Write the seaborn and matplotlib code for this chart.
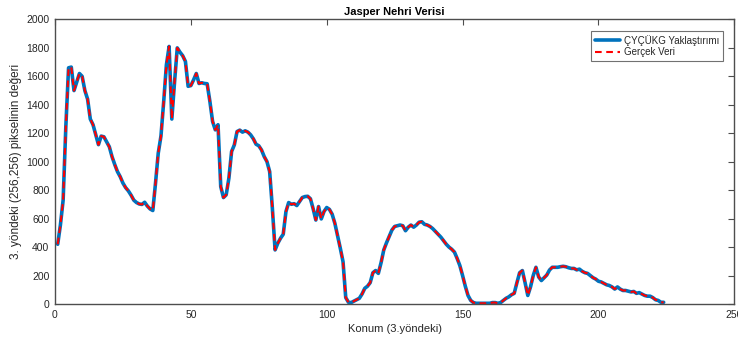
import matplotlib
matplotlib.use("Agg")
import matplotlib.pyplot as plt
import numpy as np
import pandas as pd
import seaborn as sns

# pixel position along the 3rd direction
positions = list(range(1, 225))

# values (Gerçek Veri)
real_values = [
    420, 556, 730, 1250, 1660, 1665, 1500, 1560, 1620, 1600,
    1500, 1440, 1300, 1260, 1190, 1120, 1180, 1175, 1140, 1105,
    1035, 980, 930, 895, 850, 818, 795, 765, 730, 713,
    703, 700, 715, 688, 668, 657, 850, 1060, 1180, 1420,
    1680, 1810, 1300, 1560, 1800, 1770, 1745, 1705, 1530, 1535,
    1575, 1620, 1550, 1555, 1550, 1548, 1425, 1283, 1224, 1260,
    825, 748, 767, 884, 1072, 1118, 1212, 1222, 1208, 1217,
    1208, 1189, 1161, 1123, 1112, 1083, 1036, 1001, 931, 673,
    380, 427, 462, 490, 650, 713, 701, 705, 692, 720,
    748, 755, 757, 740, 670, 590, 685, 598, 650, 678,
    665, 631, 567, 480, 392, 298, 45, 12, 10, 20,
    30, 40, 70, 110, 125, 150, 220, 235, 215, 290,
    380, 430, 475, 520, 545, 550, 555, 550, 515, 540,
    555, 540, 555, 575, 578, 560, 555, 545, 530, 510,
    490, 470, 445, 420, 400, 385, 365, 320, 270, 200,
    125, 60, 25, 10, 5, 5, 5, 5, 5, 5,
    10, 10, 5, 10, 25, 40, 50, 65, 75, 150,
    220, 235, 150, 60, 120, 200, 258, 190, 165, 185,
    204, 239, 258, 258, 258, 262, 265, 262, 255, 250,
    250, 240, 245, 230, 220, 215, 200, 185, 175, 160,
    155, 145, 135, 130, 120, 105, 120, 105, 95, 95,
    90, 85, 88, 75, 80, 70, 60, 55, 55, 45,
    30, 25, 12, 12,
]

# the approximation follows the real data so closely it is indistinguishable
approx_values = list(real_values)

series_labels = ["ÇYÇÜKG Yaklaştırımı", "Gerçek Veri"]
x_ticks = [0, 50, 100, 150, 200, 250]
y_ticks = list(range(0, 2001, 200))

sns.set_style("white")
plt.rcParams["font.family"] = ["Liberation Sans", "DejaVu Sans"]

df = pd.DataFrame({"pos": positions, "approx": approx_values, "real": real_values})

fig = plt.figure(figsize=(7.38, 3.41), dpi=100)
ax = fig.add_axes([0.0745, 0.1085, 0.9205, 0.8345])

axis_gray = "#4d4d4d"
text_gray = "#262626"

sns.lineplot(data=df, x="pos", y="approx", ax=ax, color="#0072BD",
             linewidth=2.6, label=series_labels[0])
sns.lineplot(data=df, x="pos", y="real", ax=ax, color="#FF0000",
             linewidth=1.5, linestyle=(0, (3.2, 2.2)), label=series_labels[1])

ax.set_xlim(0, 250)
ax.set_ylim(0, 2000)
ax.set_xticks(x_ticks)
ax.set_yticks(y_ticks)

ax.tick_params(axis="both", which="both", direction="in", length=4, width=0.8,
               colors=axis_gray, labelcolor=text_gray, labelsize=7.5,
               top=True, right=True, pad=4)
for spine in ax.spines.values():
    spine.set_visible(True)
    spine.set_color(axis_gray)
    spine.set_linewidth(1.0)

ax.set_xlabel("Konum (3.yöndeki)", fontsize=8, color=text_gray, labelpad=3)
ax.set_ylabel("3. yöndeki (256,256) pikselinin değeri", fontsize=8.5,
              color=text_gray, labelpad=3)
ax.set_title("Jasper Nehri Verisi", fontsize=8, fontweight="bold",
             color="black", pad=3)

leg = ax.legend(loc="upper right", bbox_to_anchor=(0.99, 0.975), fontsize=7,
                frameon=True, fancybox=False, handlelength=2.6,
                borderpad=0.35, labelspacing=0.15, handletextpad=0.4)
leg.get_frame().set_edgecolor(axis_gray)
leg.get_frame().set_linewidth(0.8)

fig.savefig("out.png", dpi=100)
